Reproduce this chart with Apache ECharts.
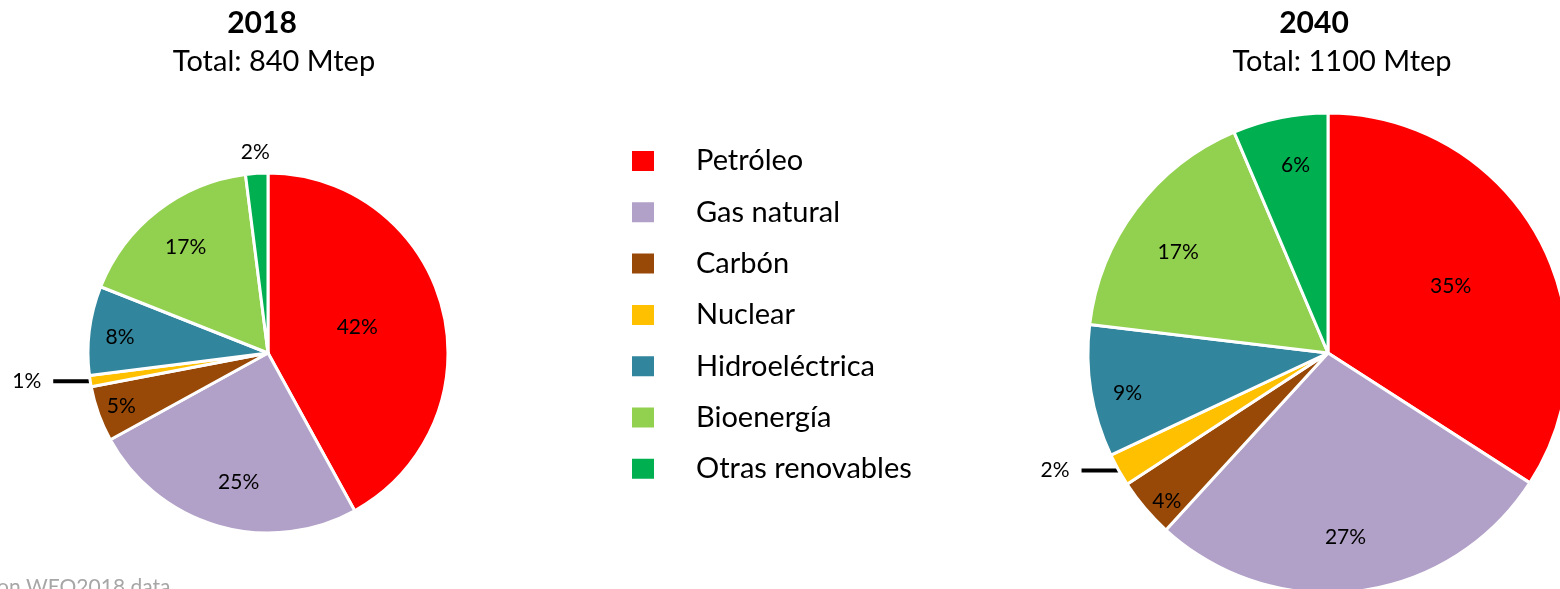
<!DOCTYPE html>
<html>
<head>
<meta charset="utf-8">
<script src="https://cdn.jsdelivr.net/npm/echarts@6/dist/echarts.min.js"></script>
<style>
  html, body { margin: 0; padding: 0; background: #ffffff; }
  #chart { width: 1560px; height: 589px; }
</style>
</head>
<body>
<div id="chart"></div>
<script>
// categorias y cuotas
const categories = ['Petróleo', 'Gas natural', 'Carbón', 'Nuclear', 'Hidroeléctrica', 'Bioenergía', 'Otras renovables']
const share2018 = [42, 25, 5, 1, 8, 17, 2]
const share2040 = [34.1, 27.7, 4.0, 2.2, 8.9, 16.7, 6.4]
const labels2018 = ['42%', '25%', '5%', '1%', '8%', '17%', '2%']
const labels2040 = ['35%', '27%', '4%', '2%', '9%', '17%', '6%']
const colors = ['#FF0000', '#B1A0C7', '#984807', '#FFC000', '#31859C', '#92D050', '#00B050']

const FONT = 'Lato, "Open Sans", sans-serif'

// posicion de etiquetas: fraccion del radio (null = fuera con linea) y giro en grados
const labelRadius2018 = [0.5, 0.72, 0.85, null, 0.81, 0.73, 1.1]
const labelTurn2018 = [-2, -3.5, 0, 0, -1.3, 0, 0]
const labelRadius2040 = [0.57, 0.76, 0.9, null, 0.84, 0.74, 0.78]
const labelTurn2040 = [0, 2, -2.3, 0, -2.3, -3, 1.7]

const buildSeries = (values, labels, radial, turn, center, r) => {
  const total = values.reduce((a, b) => a + b, 0)
  let acc = 0
  const mids = values.map((v) => {
    const m = ((acc + v / 2) / total) * Math.PI * 2
    acc += v
    return m
  })
  return {
    type: 'pie',
    center: center,
    radius: r,
    startAngle: 90,
    clockwise: true,
    avoidLabelOverlap: false,
    silent: true,
    itemStyle: { borderColor: '#ffffff', borderWidth: 3 },
    label: {
      show: true,
      position: 'inside',
      color: '#000000',
      fontFamily: FONT,
      fontSize: 21,
    },
    labelLine: { show: false },
    labelLayout: (p) => {
      const i = p.dataIndex
      const f = radial[i]
      if (f == null) return {}
      const m = mids[i]
      const t = m + (turn[i] * Math.PI) / 180
      // desplazamiento desde la posicion interior por defecto (r/2 sobre el angulo medio)
      const dx = f * r * Math.sin(t) - 0.5 * r * Math.sin(m)
      const dy = -f * r * Math.cos(t) + 0.5 * r * Math.cos(m)
      return { dx: dx, dy: dy }
    },
    data: values.map((v, i) => {
      const item = {
        name: categories[i],
        value: v,
        itemStyle: { color: colors[i] },
        label: { formatter: labels[i] },
      }
      if (radial[i] == null) {
        item.label = {
          formatter: labels[i],
          position: 'outside',
          distanceToLabelLine: 12,
        }
        item.labelLine = {
          show: true,
          length: 1,
          length2: 36,
          smooth: false,
          lineStyle: { color: '#000000', width: 4 },
        }
      }
      return item
    }),
  }
}

const chart = echarts.init(document.getElementById('chart'))
chart.setOption({
  animation: false,
  textStyle: { fontFamily: FONT },
  legend: {
    orient: 'vertical',
    left: 630,
    top: 146,
    padding: 0,
    icon: 'rect',
    itemWidth: 24,
    itemHeight: 22,
    itemGap: 21.3,
    selectedMode: false,
    textStyle: {
      fontFamily: FONT,
      fontSize: 29,
      lineHeight: 30,
      color: '#000000',
      padding: [0, 0, 0, 36],
    },
    data: categories,
  },
  graphic: [
    { type: 'text', x: 262, y: 23, style: { text: '2018', font: 'bold 30px ' + FONT, fill: '#000', align: 'center', verticalAlign: 'middle' } },
    { type: 'text', x: 274, y: 62, style: { text: 'Total: 840 Mtep', font: '29px ' + FONT, fill: '#000', align: 'center', verticalAlign: 'middle' } },
    { type: 'text', x: 1314, y: 23, style: { text: '2040', font: 'bold 30px ' + FONT, fill: '#000', align: 'center', verticalAlign: 'middle' } },
    { type: 'text', x: 1342, y: 62, style: { text: 'Total: 1100 Mtep', font: '29px ' + FONT, fill: '#000', align: 'center', verticalAlign: 'middle' } },
    { type: 'text', x: -3, y: 577, style: { text: 'on WEO2018 data', font: '21px ' + FONT, fill: '#A6A6A6', align: 'left', verticalAlign: 'top' } },
  ],
  series: [
    buildSeries(share2018, labels2018, labelRadius2018, labelTurn2018, [268, 353], 180),
    buildSeries(share2040, labels2040, labelRadius2040, labelTurn2040, [1328, 353], 240),
  ],
})
</script>
</body>
</html>
